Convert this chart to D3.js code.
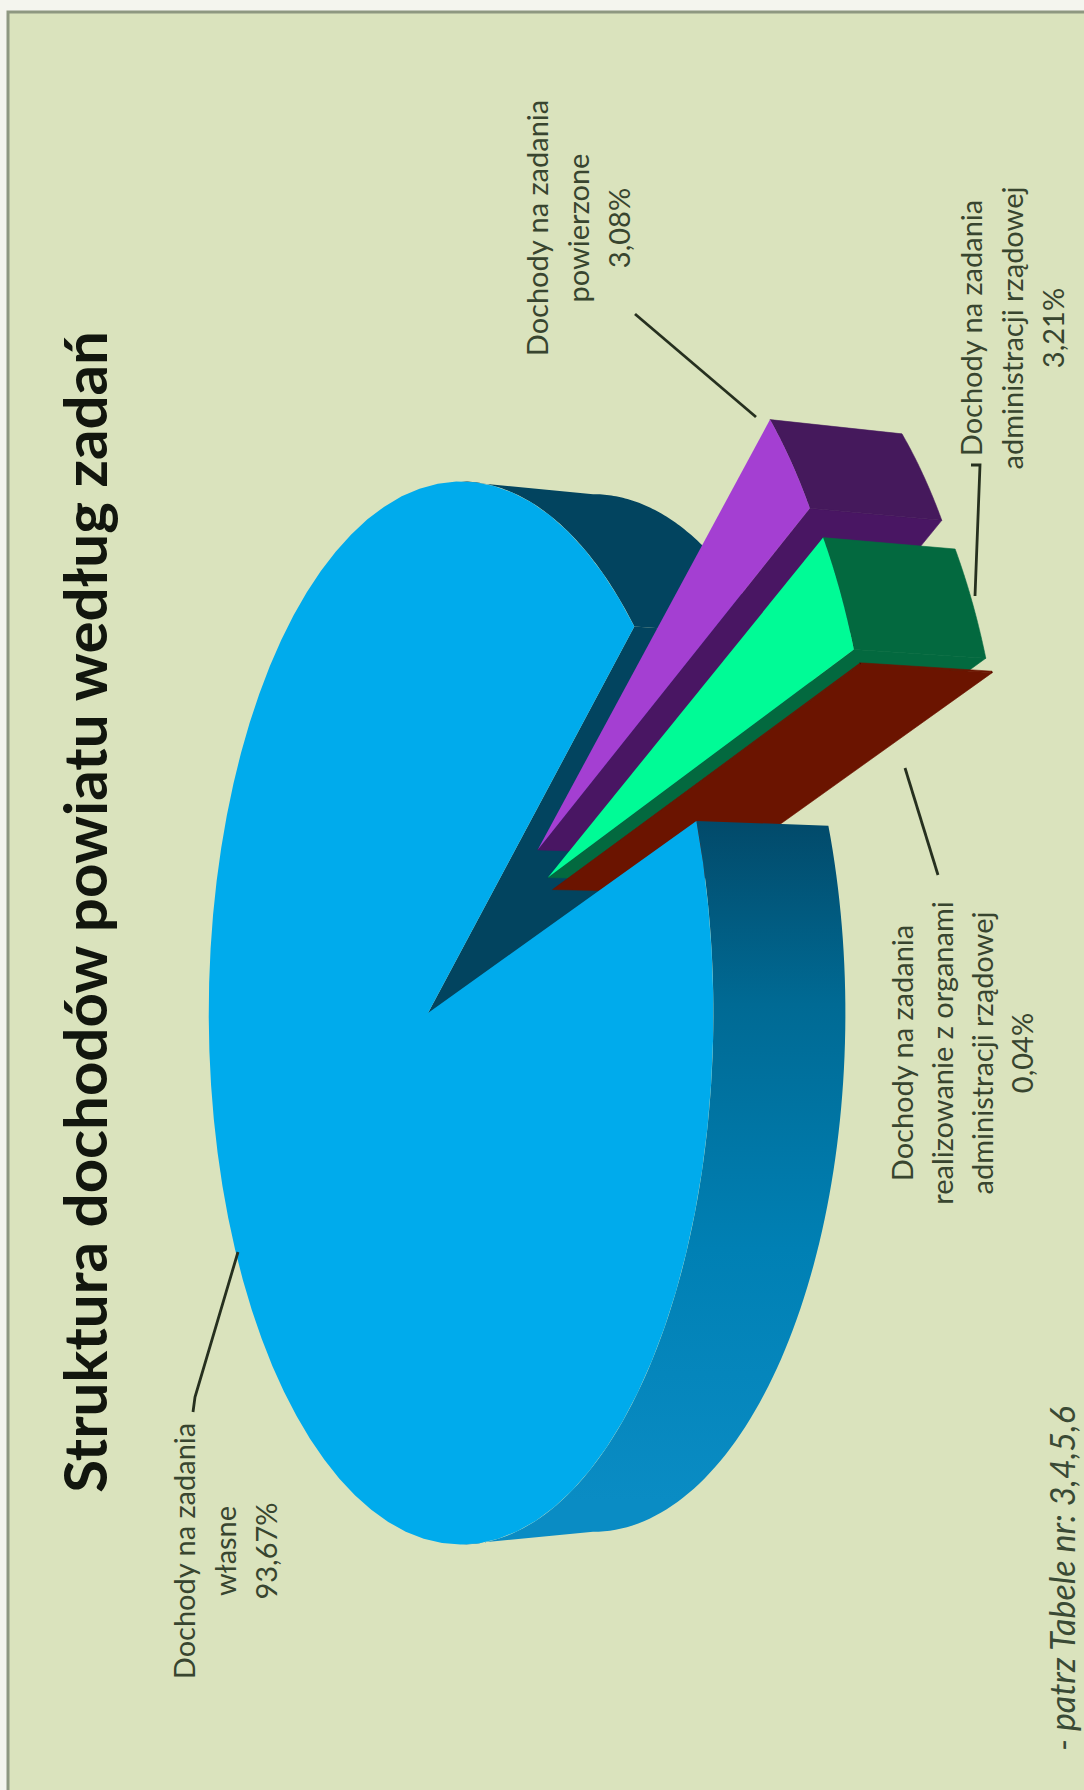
<!DOCTYPE html>
<html><head><meta charset="utf-8">
<script src="https://cdn.jsdelivr.net/npm/d3@7"></script>
<style>html,body{margin:0;padding:0;background:#f4f5ee}svg{display:block}text{font-family:Lato,"Open Sans",sans-serif}</style>
</head><body><svg id="c" width="1084" height="1790"></svg>
<script>
const titleText = "Struktura dochodów powiatu według zadań";
const footerText = "- patrz Tabele nr: 3,4,5,6";
const categories = ["Dochody na zadania własne","Dochody na zadania powierzone","Dochody na zadania administracji rządowej","Dochody na zadania realizowanie z organami administracji rządowej"];
const values = [93.67, 3.08, 3.21, 0.04];
const labelLines = [["Dochody na zadania","własne"],["Dochody na zadania","powierzone"],["Dochody na zadania","administracji rządowej"],["Dochody na zadania","realizowanie z organami","administracji rządowej"]];
const topColors  = ["#00abec","#a43fd2","#00fb96","#6b1400"];
const sideColors = ["#02445f","#45195c","#03693f","#6b1400"];
const wallColors = ["#02445f","#491663","#03693f","#6b1400"];
const explodeDist = [0, 0.51, 0.515, 0.52];
const explodeDeg  = [0, -35, -28, -25];
const labelCentres = [1551, 228, 328, 1053];
const labelBase = [[195,41],[548,41],[982,41],[913,40]];
const leaders = [
  [[238,1252],[195,1397],[193,1412]],
  [[635,314],[756,417]],
  [[971,465],[980,465],[975,596]],
  [[905,768],[938,875]]
];
const sideStops = [[0,"#024a6a"],[0.27,"#006a94"],[0.63,"#0080b4"],[1,"#0a8cc4"]];

const svg = d3.select("#c");
const rad = d => d*Math.PI/180;
const ax=428, ay=1013, a=248, b=527, k=0.131, depth=132, drift=0.024;
const project = (u,v,z) => {
  const w = 1/(1-k*u);
  const y = ay + b*v*w;
  return [ax + a*u*w + z*depth, y + z*drift*(ay-y)];
};
const line = d3.line();
const startDeg = -18.6;
const arcs = d3.pie().sort(null).value(d=>d).startAngle(rad(startDeg+90)).endAngle(rad(startDeg+450))(values);
const theta = d => [d.startAngle-Math.PI/2, d.endAngle-Math.PI/2];
const offset = i => [explodeDist[i]*Math.cos(rad(explodeDeg[i])), explodeDist[i]*Math.sin(rad(explodeDeg[i]))];
const rim = (i,t,z) => { const [ou,ov]=offset(i); return project(ou+Math.cos(t),ov+Math.sin(t),z); };
const hub = (i,z) => { const [ou,ov]=offset(i); return project(ou,ov,z); };
const samples = (t0,t1,n=80) => d3.range(n+1).map(j=>t0+(t1-t0)*j/n);
const band = (i,t0,t1) => { const ts=samples(t0,t1); return line([...ts.map(t=>rim(i,t,0)),...ts.slice().reverse().map(t=>rim(i,t,1))])+"Z"; };
const wall = (i,t) => line([hub(i,0),rim(i,t,0),rim(i,t,1),hub(i,1)])+"Z";
const sector = (i,t0,t1) => line([hub(i,0),...samples(t0,t1).map(t=>rim(i,t,0))])+"Z";

// background
svg.append("rect").attr("x",8).attr("y",12).attr("width",1076).attr("height",1778).attr("fill","#dae3bd");
svg.append("path").attr("d","M8,1790V12H1084").attr("fill","none").attr("stroke","#8e9881").attr("stroke-width",3);

const grad = svg.append("defs").append("linearGradient").attr("id","sg").attr("gradientUnits","userSpaceOnUse")
  .attr("x1",0).attr("x2",0).attr("y1",821).attr("y2",1500);
grad.selectAll("stop").data(sideStops).join("stop").attr("offset",d=>d[0]).attr("stop-color",d=>d[1]);

const [m0,m1] = theta(arcs[0]);
const tangentBack = 2*Math.PI - Math.acos(k), tangentFront = Math.acos(k);
const g = svg.append("g");
// back of main slice
g.append("path").attr("d",band(0,tangentBack,m1)).attr("fill",sideColors[0]);
g.append("path").attr("d",wall(0,m1)).attr("fill",wallColors[0]);
// exploded slices
arcs.slice(1).forEach((d,n)=>{
  const i=n+1, [t0,t1]=theta(d);
  const s=g.append("g");
  s.append("path").attr("d",wall(i,t1)).attr("fill",wallColors[i]).attr("stroke",wallColors[i]).attr("stroke-width",0.6);
  s.append("path").attr("d",band(i,t0,t1)).attr("fill",sideColors[i]).attr("stroke",sideColors[i]).attr("stroke-width",0.6);
  s.append("path").attr("d",sector(i,t0,t1)).attr("fill",topColors[i]);
});
// front of main slice and its top
g.append("path").attr("d",band(0,m0,tangentFront)).attr("fill","url(#sg)");
g.append("path").attr("d",sector(0,m0,m1)).attr("fill",topColors[0]);

// leaders
svg.selectAll("path.lead").data(leaders).join("path").attr("class","lead")
  .attr("d",d=>line(d)).attr("fill","none").attr("stroke","#26301f").attr("stroke-width",2.8);

const rot=(x,y)=>`translate(${x},${y}) rotate(-90)`;
const pct=v=>d3.format(".2f")(v).replace(".",",")+"%";
// labels
categories.forEach((c,i)=>{
  const lines=[...labelLines[i],pct(values[i])];
  const lg=svg.append("g").attr("data-category",c);
  lines.forEach((t,j)=>{
    lg.append("text").attr("transform",rot(labelBase[i][0]+j*labelBase[i][1],labelCentres[i]))
      .attr("text-anchor","middle").attr("font-size",29).attr("fill","#38452f").text(t);
  });
});
svg.append("text").attr("transform",rot(107,912)).attr("text-anchor","middle").attr("font-size",60).attr("font-weight",700).attr("fill","#12160e").text(titleText);
svg.append("text").attr("transform",rot(1075,1751)).attr("font-size",34).attr("font-style","italic").attr("fill","#3a4a35").text(footerText);
</script></body></html>
